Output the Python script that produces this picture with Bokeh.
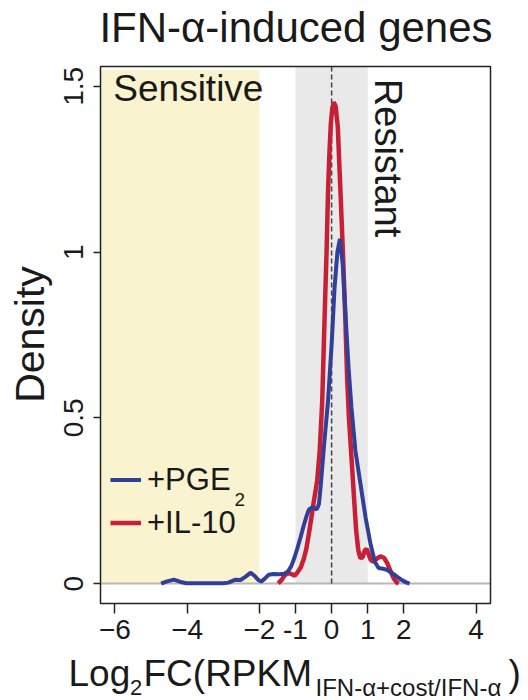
import math
from bokeh.plotting import figure
from bokeh.models import Range1d, Label, Legend, LegendItem, FixedTicker
from bokeh.embed import file_html
from bokeh.resources import INLINE

# ---------------- data ----------------
pge2_x = [-4.72, -4.58, -4.37, -4.18, -4.02, -3.5, -3.0, -2.86, -2.66, -2.52, -2.38, -2.24,
          -2.12, -2.03, -1.95, -1.85, -1.74, -1.6, -1.45, -1.3, -1.2, -1.12, -1.03, -0.95,
          -0.86, -0.77, -0.69, -0.63, -0.55, -0.48, -0.41, -0.35, -0.3, -0.21, -0.1, 0.0,
          0.08, 0.16, 0.23, 0.31, 0.39, 0.47, 0.55, 0.66, 0.8, 0.94, 1.08, 1.2, 1.3, 1.42,
          1.54, 1.64, 1.74, 1.86, 1.97, 2.08, 2.16]
pge2_y = [0.0, 0.006, 0.012, 0.005, 0.001, 0.001, 0.001, 0.003, 0.012, 0.011, 0.021, 0.033,
          0.022, 0.011, 0.006, 0.015, 0.027, 0.029, 0.028, 0.03, 0.038, 0.052, 0.078, 0.106,
          0.14, 0.176, 0.205, 0.223, 0.229, 0.228, 0.224, 0.24, 0.297, 0.417, 0.55, 0.72,
          0.89, 1.0, 1.04, 0.96, 0.8, 0.65, 0.53, 0.4, 0.3, 0.2, 0.118, 0.065, 0.047, 0.045,
          0.041, 0.034, 0.027, 0.017, 0.009, 0.003, 0.0]

il10_x = [-1.48, -1.38, -1.3, -1.2, -1.1, -1.02, -0.93, -0.85, -0.77, -0.7, -0.63, -0.56,
          -0.49, -0.4, -0.33, -0.26, -0.19, -0.14, -0.1, -0.06, -0.02, 0.02, 0.06, 0.11,
          0.17, 0.25, 0.32, 0.38, 0.43, 0.48, 0.55, 0.62, 0.68, 0.74, 0.8, 0.86, 0.92, 0.97,
          1.02, 1.08, 1.15, 1.25, 1.35, 1.45, 1.54, 1.63, 1.72, 1.8, 1.86]
il10_y = [0.0, 0.012, 0.025, 0.033, 0.028, 0.024, 0.036, 0.05, 0.075, 0.105, 0.15, 0.2,
          0.25, 0.31, 0.4, 0.55, 0.82, 1.0, 1.18, 1.3, 1.39, 1.435, 1.452, 1.44, 1.38, 1.17,
          0.98, 0.8, 0.62, 0.5, 0.38, 0.26, 0.16, 0.1, 0.076, 0.08, 0.1, 0.105, 0.09, 0.072,
          0.066, 0.075, 0.082, 0.078, 0.062, 0.038, 0.016, 0.004, 0.0]

x_ticks = [-6, -4, -2, -1, 0, 1, 2, 4]
x_tick_labels = ["\u22126", "\u22124", "\u22122", "-1", "0", "1", "2", "4"]
y_ticks = [0, 0.5, 1, 1.5]
y_tick_labels = ["0", "0.5", "1", "1.5"]

x_lim = (-6.4, 4.4)         # plot box
y_lim = (-0.06, 1.56)
sensitive_max = -2          # left shaded zone upper bound
resistant_band = (-1, 1)    # grey band
sensitive_top = 1.55
band_top = 1.56

series_names = ["+PGE", "+IL-10"]
colors = {"pge2": "#323f97", "il10": "#c81e36"}

FONT = "Liberation Sans"
TXT = "#1a1a1a"

# ---------------- layout (pixels) ----------------
W, H = 528, 700
BOX_L, BOX_T, BOX_W, BOX_H = 100, 66, 390, 537
sx = BOX_W / (x_lim[1] - x_lim[0])
sy = BOX_H / (y_lim[1] - y_lim[0])


def px2x(px):
    return x_lim[0] + (px - BOX_L) / sx


def py2y(py):
    return y_lim[1] - (py - BOX_T) / sy


p = figure(width=W, height=H, output_backend="svg", toolbar_location=None,
           x_range=Range1d(px2x(0), px2x(W)), y_range=Range1d(py2y(H), py2y(0)),
           min_border_left=0, min_border_right=0, min_border_top=0, min_border_bottom=0)
p.title = None
p.xgrid.visible = False
p.ygrid.visible = False
p.background_fill_color = "white"
p.border_fill_color = "white"
p.outline_line_color = None

# background zones
p.quad(left=[x_lim[0]], right=[sensitive_max], bottom=[0], top=[sensitive_top],
       fill_color="#f9f4cf", line_color=None)
p.quad(left=[resistant_band[0]], right=[resistant_band[1]], bottom=[0], top=[band_top],
       fill_color="#e9e9e9", line_color=None)
p.segment(x0=[x_lim[0]], y0=[0], x1=[x_lim[1]], y1=[0], line_color="#b8b8b8", line_width=2)
p.segment(x0=[0], y0=[0], x1=[0], y1=[band_top], line_color="#444444",
          line_width=1.5, line_dash="5 3")

r_il10 = p.line(il10_x, il10_y, line_color=colors["il10"], line_width=4.5)
r_pge2 = p.line(pge2_x, pge2_y, line_color=colors["pge2"], line_width=4)

# plot box
p.quad(left=[x_lim[0]], right=[x_lim[1]], bottom=[y_lim[0]], top=[y_lim[1]],
       fill_color=None, line_color="#222222", line_width=1.5)

# axes pinned to the box edges
p.xaxis.fixed_location = y_lim[0]
p.yaxis.fixed_location = x_lim[0]
p.xaxis.ticker = FixedTicker(ticks=x_ticks)
p.xaxis.major_label_overrides = dict(zip(x_ticks, x_tick_labels))
p.yaxis.ticker = FixedTicker(ticks=y_ticks)
p.yaxis.major_label_overrides = dict(zip(y_ticks, y_tick_labels))
for ax in (p.xaxis, p.yaxis):
    ax.axis_line_color = None
    ax.major_tick_line_color = "#222222"
    ax.major_tick_line_width = 1.5
    ax.major_tick_in = 0
    ax.minor_tick_line_color = None
    ax.major_label_text_font = FONT
    ax.major_label_text_font_size = "28px"
    ax.major_label_text_color = TXT
p.xaxis.major_tick_out = 10
p.xaxis.major_label_standoff = 6
p.yaxis.major_tick_out = 7
p.yaxis.major_label_standoff = 10
p.yaxis.major_label_orientation = "vertical"

# legend
legend = Legend(items=[LegendItem(label=series_names[0], renderers=[r_pge2]),
                       LegendItem(label=series_names[1], renderers=[r_il10])],
                location=(BOX_L + 10, H - 544), glyph_width=31, glyph_height=43,
                label_height=43, label_standoff=6, spacing=0, padding=0, margin=0,
                label_text_font=FONT, label_text_font_size="31px", label_text_color=TXT,
                border_line_color=None, background_fill_alpha=0)
p.add_layout(legend)


def lab(text, px, py, size, angle=0.0, align="left"):
    p.add_layout(Label(x=px2x(px), y=py2y(py), text=text, angle=angle,
                       text_font=FONT, text_font_size=size, text_color=TXT,
                       text_align=align, text_baseline="middle"))


lab("IFN-\u03b1-induced genes", 295.5, 27, "42px", align="center")
lab("Density", 29, 334, "41px", angle=math.pi / 2, align="center")
lab("2", 234, 498.6, "19px")   # PGE subscript
lab("Sensitive", 112.8, 87.7, "37px")
lab("Resistant", 387.5, 78.3, "38px", angle=-math.pi / 2)

# x-axis title with subscripts
lab("Log", 68, 673, "37px")
lab("2", 129.5, 686.5, "22px")
lab("FC(RPKM", 143, 673, "37px")
lab("IFN-\u03b1+cost/IFN-\u03b1", 315, 686.5, "24px")
lab(")", 508, 673, "37px")

open("out.html", "w").write(file_html(p, INLINE))
